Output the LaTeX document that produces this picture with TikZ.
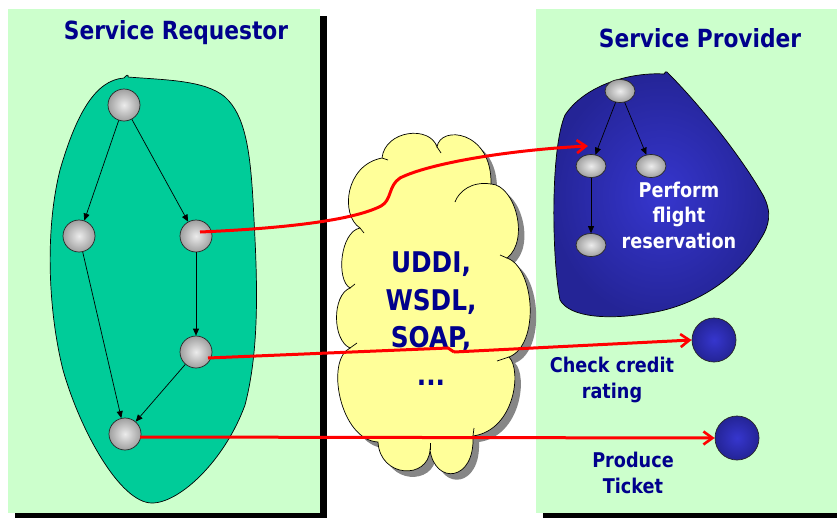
\documentclass[tikz,border=0pt]{standalone}
\usepackage{fontspec}
\newfontfamily\tah[FakeStretch=0.87]{DejaVu Sans}
\usetikzlibrary{shapes.geometric,shadows,arrows.meta}
\definecolor{panelgreen}{HTML}{CCFFCC}
\definecolor{blobgreen}{HTML}{00CC99}
\definecolor{cloudyellow}{HTML}{FFFF99}
\definecolor{labelblue}{RGB}{0,0,140}
\definecolor{deepblue}{RGB}{36,36,150}
\definecolor{midblue}{RGB}{54,54,206}
% outline of the middleware cloud, one Bezier per puff
\def\cloudoutline{(360,228)
  .. controls (340,215) and (345,165) .. (382,158)
  .. controls (385,130) and (430,125) .. (437,147)
  .. controls (440,125) and (492,130) .. (491,184)
  .. controls (515,185) and (530,240) .. (507,258)
  .. controls (535,268) and (540,345) .. (509,357)
  .. controls (522,370) and (515,430) .. (473,436)
  .. controls (475,482) and (435,485) .. (430,450)
  .. controls (428,480) and (380,478) .. (378,442)
  .. controls (340,440) and (325,360) .. (350,348)
  .. controls (332,340) and (332,295) .. (350,288)
  .. controls (336,280) and (340,232) .. (360,228) -- cycle}
\begin{document}
\begin{tikzpicture}[x=1pt,y=-1pt,
  panel/.style={fill=panelgreen, draw=none,
    general shadow={fill=black, shadow xshift=7pt, shadow yshift=-7pt}},
  ball/.style={circle, draw=black!85, line width=0.7pt, inner sep=0pt,
    minimum size=32pt, inner color=gray!15, outer color=gray!75},
  egg/.style={ellipse, draw=black!85, line width=0.7pt, inner sep=0pt,
    minimum width=30pt, minimum height=23pt, inner color=gray!15, outer color=gray!75},
  bluedot/.style={circle, draw=black!85, line width=0.7pt, inner sep=0pt,
    minimum size=44pt, inner color=midblue, outer color=deepblue},
  flow/.style={-{Triangle[length=7pt,width=6pt]}, line width=0.7pt, black},
  call/.style={red, line width=3pt,
    -{Straight Barb[length=9pt,width=13pt,line width=2.6pt]}},
  plain/.style={red, line width=3pt},
  puffline/.style={draw=black, line width=0.7pt},
  heading/.style={font=\tah\bfseries\fontsize{25}{30}\selectfont, text=labelblue, anchor=base},
  caption/.style={font=\tah\bfseries\fontsize{20.3}{25.5}\selectfont, text=labelblue, align=center, anchor=base},
]
\clip (0,0) rectangle (837,517);
\fill[white] (0,0) rectangle (837,517);

% requestor and provider panels with their black drop shadows
\path[panel] (8,9) rectangle (320,513);
\path[panel] (536,9) rectangle (850,513);

% requestor process region
\filldraw[fill=blobgreen, draw=black, line width=0.7pt]
  (128,77) .. controls (165,80) and (205,80) .. (225,97)
  .. controls (245,115) and (250,150) .. (253,200)
  .. controls (256,260) and (262,340) .. (245,405)
  .. controls (225,460) and (180,503) .. (152,503)
  .. controls (120,503) and (80,430) .. (63,370)
  .. controls (48,310) and (45,230) .. (60,170)
  .. controls (76,115) and (95,80) .. (124,78)
  .. controls (126,75) and (129,74) .. (128,77);

% provider process region
\shade[inner color=midblue, outer color=deepblue, draw=black, line width=0.7pt]
  (667,72) .. controls (700,105) and (740,155) .. (763,195)
  .. controls (772,212) and (770,225) .. (760,240)
  .. controls (740,275) and (700,305) .. (650,313)
  .. controls (610,320) and (570,318) .. (560,300)
  .. controls (552,260) and (550,150) .. (565,115)
  .. controls (585,85) and (630,72) .. (664,74)
  .. controls (665,72) and (666,71) .. (667,72);

% middleware cloud with its shadow and the short puff seams
\fill[gray!95, shift={(6,6)}] \cloudoutline;
\path[fill=cloudyellow, puffline] \cloudoutline;
\draw[puffline] (360,228) -- (364,233);
\draw[puffline] (382,158) -- (388,160);
\draw[puffline] (437,147) -- (441,153);
\draw[puffline] (491,184) .. controls (472,181) and (459,191) .. (455,202);
\draw[puffline] (507,258) -- (500,255);
\draw[puffline] (509,357) -- (497,361);
\draw[puffline] (473,436) -- (474,428);
\draw[puffline] (430,450) -- (430,443);
\draw[puffline] (350,348) -- (357,343);
\draw[puffline] (350,288) -- (355,284);
\node[font=\tah\bfseries\fontsize{28.5}{37.5}\selectfont, text=labelblue,
  align=center, anchor=base] (protocols) at (431,385) {UDDI,\\WSDL,\\SOAP,\\...};

% requestor workflow
\node[ball] (n1) at (124,105) {};
\node[ball] (n2) at (79,236) {};
\node[ball] (n3) at (196,236) {};
\node[ball] (n4) at (196,352) {};
\node[ball] (n5) at (125,434) {};
\draw[flow] (n1) -- (n2);
\draw[flow] (n1) -- (n3);
\draw[flow] (n3) -- (n4);
\draw[flow] (n2) -- (n5);
\draw[flow] (n4) -- (n5);

% provider workflow
\node[egg] (p1) at (620,91) {};
\node[egg] (p2) at (591,166) {};
\node[egg] (p3) at (651,166) {};
\node[egg] (p4) at (591,245) {};
\draw[flow] (p1) -- (p2);
\draw[flow] (p1) -- (p3);
\draw[flow] (p2) -- (p4);

% single provider services
\node[bluedot] (credit) at (714,340) {};
\node[bluedot] (ticket) at (737,438) {};

% service invocations
\coordinate (in1) at (588,146);
\coordinate (bend) at (448,350);
\draw[call] ([shift={(4,-4)}]n3.center)
  .. controls (270,229) and (350,222) .. (381,206)
  .. controls (392,200) and (388,186) .. (400,178)
  .. controls (430,163) and (510,150) .. (in1);
\draw[plain] ([shift={(12,6)}]n4.center) -- ([yshift=2]bend) -- ([xshift=6,yshift=-2]bend);
\draw[call] ([xshift=6,yshift=-2]bend) -- (credit.west);
\draw[call] ([shift={(15,3)}]n5.center) -- (ticket.west);

% labels
\node[heading] (reqtitle) at (176,39) {Service Requestor};
\node[heading] (provtitle) at (700,47) {Service Provider};
\node[caption, text=white] (flightlbl) at (679,248) {Perform\\flight\\reservation};
\node[caption] (creditlbl) at (612,398) {Check credit\\rating};
\node[caption] (ticketlbl) at (633,493) {Produce\\Ticket};
\end{tikzpicture}
\end{document}
